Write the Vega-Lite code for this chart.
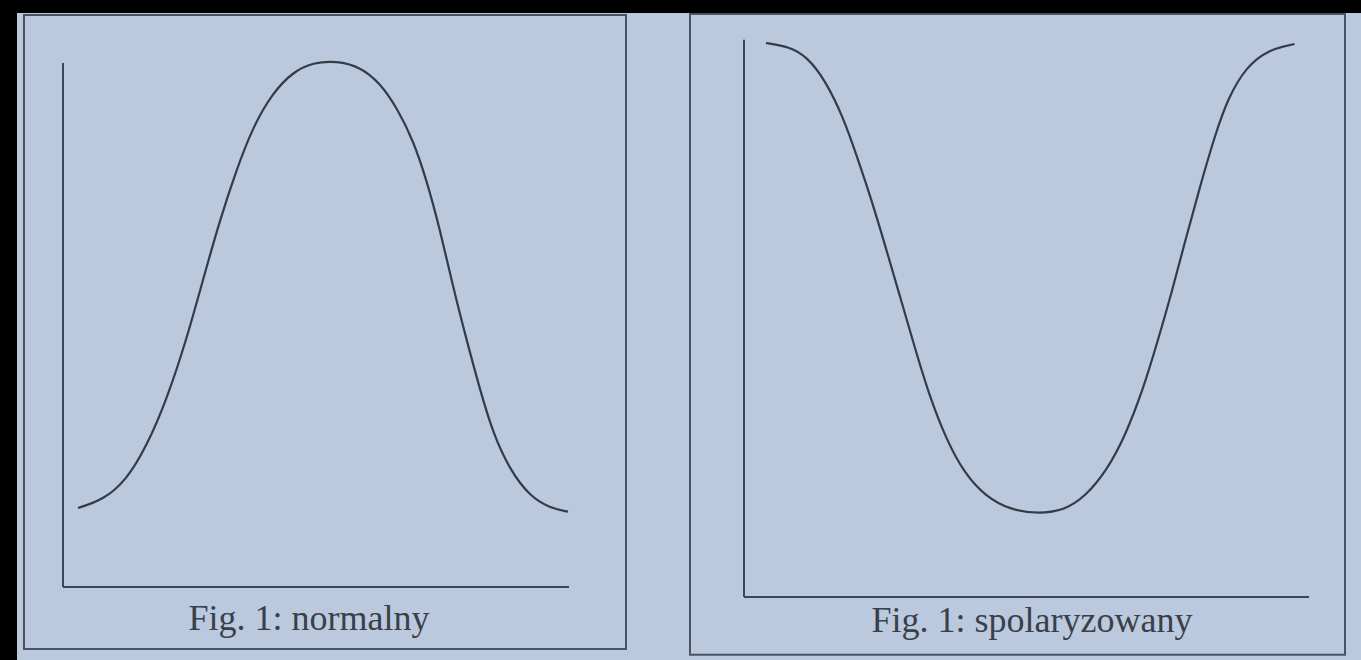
{
  "$schema": "https://vega.github.io/schema/vega-lite/v6.json",
  "background": "#000000",
  "padding": {"left": 17, "top": 13, "right": 0, "bottom": 0},
  "spacing": 0,
  "config": {
    "view": {"fill": "#bac9dd", "stroke": null},
    "concat": {"spacing": 0}
  },
  "datasets": {
    "one": [{}],
    "normalny": [
      {"x": 3, "y": 15}, {"x": 8, "y": 16.5}, {"x": 12.7, "y": 20.3}, {"x": 16.7, "y": 26.7},
      {"x": 20.7, "y": 35.5}, {"x": 24.7, "y": 47}, {"x": 28, "y": 58.4}, {"x": 31.4, "y": 69.8},
      {"x": 34.7, "y": 79.3}, {"x": 38, "y": 87.5}, {"x": 42, "y": 94}, {"x": 46, "y": 97.9},
      {"x": 50, "y": 99.7}, {"x": 54.7, "y": 100}, {"x": 59.4, "y": 98.9}, {"x": 63.4, "y": 95.8},
      {"x": 66.7, "y": 91.2}, {"x": 70, "y": 85}, {"x": 72.7, "y": 77.4}, {"x": 75.4, "y": 67.9},
      {"x": 78, "y": 57.1}, {"x": 80.7, "y": 47}, {"x": 83.4, "y": 37.5}, {"x": 86, "y": 29.2},
      {"x": 89.4, "y": 22.2}, {"x": 93.4, "y": 17.2}, {"x": 97.4, "y": 15}, {"x": 101, "y": 14.3}
    ],
    "spolaryzowany": [
      {"x": 4.4, "y": 105.3}, {"x": 9.1, "y": 104.6}, {"x": 12.6, "y": 102.7}, {"x": 16.2, "y": 98.3},
      {"x": 19.8, "y": 91.3}, {"x": 22.6, "y": 83.7}, {"x": 25.5, "y": 75.5}, {"x": 28.3, "y": 66.6},
      {"x": 31.2, "y": 57.1}, {"x": 34.1, "y": 47.6}, {"x": 36.9, "y": 38.7}, {"x": 40.5, "y": 29.8},
      {"x": 44.1, "y": 23.5}, {"x": 48.3, "y": 19.1}, {"x": 53.3, "y": 16.5}, {"x": 59.1, "y": 15.8},
      {"x": 64.1, "y": 16.5}, {"x": 68.3, "y": 19.1}, {"x": 72.6, "y": 24.1}, {"x": 76.2, "y": 30.5},
      {"x": 79.8, "y": 39.4}, {"x": 82.6, "y": 48.2}, {"x": 85.5, "y": 57.7}, {"x": 88.3, "y": 67.9},
      {"x": 91.2, "y": 78}, {"x": 94.1, "y": 87.5}, {"x": 96.9, "y": 95.1}, {"x": 100.5, "y": 100.8},
      {"x": 104.8, "y": 104}, {"x": 110.1, "y": 105.1}
    ]
  },
  "hconcat": [
    {
      "width": 641,
      "height": 647,
      "layer": [
        {
          "data": {"name": "one"},
          "mark": {"type": "rect", "fillOpacity": 0, "stroke": "#4b5362", "strokeWidth": 2},
          "encoding": {
            "x": {"datum": -7.8, "type": "quantitative", "scale": {"domain": [-9.2, 119], "nice": false, "zero": false}, "axis": null},
            "x2": {"datum": 112.6},
            "y": {"datum": 108.7, "type": "quantitative", "scale": {"domain": [-13.9, 109.1], "nice": false, "zero": false}, "axis": null},
            "y2": {"datum": -11.8}
          }
        },
        {
          "data": {"name": "one"},
          "mark": {"type": "rule", "stroke": "#3e4553", "strokeWidth": 2},
          "encoding": {
            "x": {"datum": 0, "type": "quantitative", "scale": {"domain": [-9.2, 119], "nice": false, "zero": false}, "axis": null},
            "y": {"datum": 0, "type": "quantitative", "scale": {"domain": [-13.9, 109.1], "nice": false, "zero": false}, "axis": null},
            "y2": {"datum": 99.6}
          }
        },
        {
          "data": {"name": "one"},
          "mark": {"type": "rule", "stroke": "#3e4553", "strokeWidth": 2},
          "encoding": {
            "x": {"datum": 0, "type": "quantitative", "scale": {"domain": [-9.2, 119], "nice": false, "zero": false}, "axis": null},
            "x2": {"datum": 101.2},
            "y": {"datum": 0, "type": "quantitative", "scale": {"domain": [-13.9, 109.1], "nice": false, "zero": false}, "axis": null}
          }
        },
        {
          "data": {"name": "normalny"},
          "mark": {"type": "line", "interpolate": "basis", "stroke": "#353b47", "strokeWidth": 2.2},
          "encoding": {
            "x": {"field": "x", "type": "quantitative", "scale": {"domain": [-9.2, 119], "nice": false, "zero": false}, "axis": null},
            "y": {"field": "y", "type": "quantitative", "scale": {"domain": [-13.9, 109.1], "nice": false, "zero": false}, "axis": null}
          }
        },
        {
          "data": {"name": "one"},
          "mark": {"type": "text", "font": "Liberation Serif", "fontSize": 36, "color": "#3a3f4a", "baseline": "middle", "align": "center"},
          "encoding": {
            "x": {"datum": 49.2, "type": "quantitative", "scale": {"domain": [-9.2, 119], "nice": false, "zero": false}, "axis": null},
            "y": {"datum": -6.1, "type": "quantitative", "scale": {"domain": [-13.9, 109.1], "nice": false, "zero": false}, "axis": null},
            "text": {"value": "Fig. 1: normalny"}
          }
        }
      ]
    },
    {
      "width": 703,
      "height": 647,
      "layer": [
        {
          "data": {"name": "one"},
          "mark": {"type": "rect", "fillOpacity": 0, "stroke": "#4b5362", "strokeWidth": 2},
          "encoding": {
            "x": {"datum": -10.8, "type": "quantitative", "scale": {"domain": [-17.2, 123.4], "nice": false, "zero": false}, "axis": null},
            "x2": {"datum": 120.2},
            "y": {"datum": 110.8, "type": "quantitative", "scale": {"domain": [-12, 111], "nice": false, "zero": false}, "axis": null},
            "y2": {"datum": -11}
          }
        },
        {
          "data": {"name": "one"},
          "mark": {"type": "rule", "stroke": "#3e4553", "strokeWidth": 2},
          "encoding": {
            "x": {"datum": 0, "type": "quantitative", "scale": {"domain": [-17.2, 123.4], "nice": false, "zero": false}, "axis": null},
            "y": {"datum": 0, "type": "quantitative", "scale": {"domain": [-12, 111], "nice": false, "zero": false}, "axis": null},
            "y2": {"datum": 105.9}
          }
        },
        {
          "data": {"name": "one"},
          "mark": {"type": "rule", "stroke": "#3e4553", "strokeWidth": 2},
          "encoding": {
            "x": {"datum": 0, "type": "quantitative", "scale": {"domain": [-17.2, 123.4], "nice": false, "zero": false}, "axis": null},
            "x2": {"datum": 113},
            "y": {"datum": 0, "type": "quantitative", "scale": {"domain": [-12, 111], "nice": false, "zero": false}, "axis": null}
          }
        },
        {
          "data": {"name": "spolaryzowany"},
          "mark": {"type": "line", "interpolate": "basis", "stroke": "#353b47", "strokeWidth": 2.2},
          "encoding": {
            "x": {"field": "x", "type": "quantitative", "scale": {"domain": [-17.2, 123.4], "nice": false, "zero": false}, "axis": null},
            "y": {"field": "y", "type": "quantitative", "scale": {"domain": [-12, 111], "nice": false, "zero": false}, "axis": null}
          }
        },
        {
          "data": {"name": "one"},
          "mark": {"type": "text", "font": "Liberation Serif", "fontSize": 36, "color": "#3a3f4a", "baseline": "middle", "align": "center"},
          "encoding": {
            "x": {"datum": 57.6, "type": "quantitative", "scale": {"domain": [-17.2, 123.4], "nice": false, "zero": false}, "axis": null},
            "y": {"datum": -4.6, "type": "quantitative", "scale": {"domain": [-12, 111], "nice": false, "zero": false}, "axis": null},
            "text": {"value": "Fig. 1: spolaryzowany"}
          }
        }
      ]
    }
  ]
}
